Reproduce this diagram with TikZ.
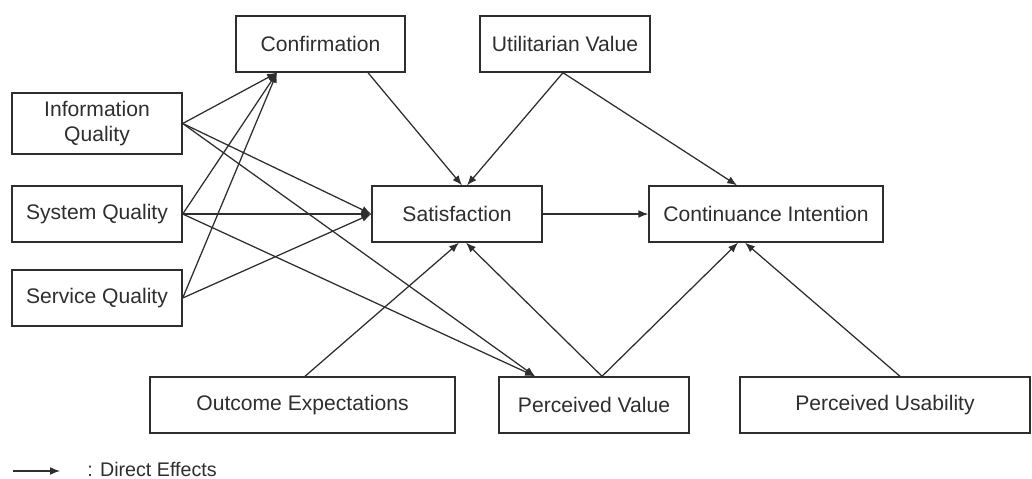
\documentclass[tikz,border=0pt]{standalone}
\usepackage{fontspec}
\setmainfont{Liberation Sans}
\usetikzlibrary{arrows.meta,calc}
\definecolor{ink}{HTML}{2E2E2E}
\begin{document}
\begin{tikzpicture}[x=0.025cm,y=-0.025cm,
  box/.style={draw=ink,line width=1pt,rectangle,inner sep=0pt,align=center,text=ink,
     font=\fontsize{15}{17.5}\selectfont},
  arr/.style={draw=ink,line width=0.9pt,-{Latex[length=7pt,width=5.5pt]}},
  ln/.style={draw=ink,line width=0.9pt}]
\useasboundingbox (0,0) rectangle (1032,479);
\node[box,minimum width=169*0.025cm,minimum height=56*0.025cm] (conf) at (320.5,44) {Confirmation};
\node[box,minimum width=170*0.025cm,minimum height=56*0.025cm] (util) at (565,44) {Utilitarian Value};
\node[box,minimum width=170*0.025cm,minimum height=61*0.025cm] (iq) at (97,123.5) {Information\\Quality};
\node[box,minimum width=170*0.025cm,minimum height=56*0.025cm] (sq) at (97,214) {System Quality};
\node[box,minimum width=170*0.025cm,minimum height=56*0.025cm] (serq) at (97,298) {Service Quality};
\node[box,minimum width=170*0.025cm,minimum height=56*0.025cm] (sat) at (457,214) {Satisfaction};
\node[box,minimum width=234*0.025cm,minimum height=56*0.025cm] (ci) at (766,214) {Continuance Intention};
\node[box,minimum width=305*0.025cm,minimum height=56*0.025cm] (oe) at (302.5,405) {Outcome Expectations};
\node[box,minimum width=190*0.025cm,minimum height=56*0.025cm] (pv) at (594,405) {Perceived Value};
\node[box,minimum width=290*0.025cm,minimum height=56*0.025cm] (pu) at (885,405) {Perceived Usability};

% anchor points
\coordinate (confin) at ($(conf.south)+(-43.5,0)$);
\coordinate (confout) at ($(conf.south)+(47.5,0)$);
\coordinate (utilout) at ($(util.south)+(-2,0)$);
\coordinate (sattopL) at ($(sat.north)+(5,0)$);
\coordinate (sattopR) at ($(sat.north)+(10,0)$);
\coordinate (satbotL) at ($(sat.south)+(2,0)$);
\coordinate (satbotR) at ($(sat.south)+(9,0)$);
\coordinate (citop) at ($(ci.north)+(-29,0)$);
\coordinate (cibotL) at ($(ci.south)+(-28,0)$);
\coordinate (cibotR) at ($(ci.south)+(-21,0)$);
\coordinate (pvin) at ($(pv.north)+(-59,0)$);
\coordinate (pvout) at ($(pv.north)+(8,0)$);
\coordinate (oeout) at ($(oe.north)+(2.5,0)$);
\coordinate (puout) at ($(pu.north)+(15,0)$);

% quality -> confirmation
\draw[arr] (iq.east) -- (confin);
\draw[arr] (sq.east) -- (confin);
\draw[arr] (serq.east) -- (confin);
% quality -> satisfaction
\draw[arr] (iq.east) -- (sat.west);
\draw[arr] (sq.east) -- (sat.west);
\draw[arr] (serq.east) -- (sat.west);
% quality -> perceived value
\draw[arr] (iq.east) -- (pvin);
\draw[arr] (sq.east) -- (pvin);
% others
\draw[arr] (confout) -- (sattopL);
\draw[arr] (utilout) -- (sattopR);
\draw[arr] (utilout) -- (citop);
\draw[arr] (sat.east) -- (ci.west);
\draw[arr] (oeout) -- (satbotL);
\draw[arr] (pvout) -- (satbotR);
\draw[arr] (pvout) -- (cibotL);
\draw[arr] (puout) -- (cibotR);

% legend
\coordinate (legA) at (13,471);
\coordinate (legB) at (60,471);
\draw[arr] (legA) -- (legB);
\node[anchor=west,inner sep=0pt,text=ink,font=\fontsize{14}{16}\selectfont] (legtxt) at (87,469) {: Direct Effects};
\end{tikzpicture}
\end{document}
